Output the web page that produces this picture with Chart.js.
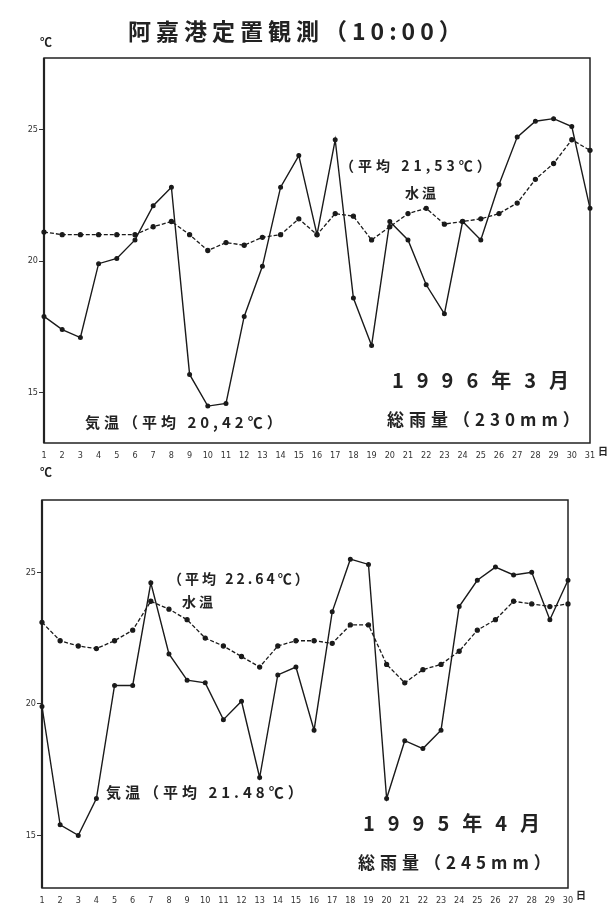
<!DOCTYPE html>
<html lang="ja">
<head>
<meta charset="UTF-8">
<title>阿嘉港定置観測</title>
<script src="https://cdn.jsdelivr.net/npm/chart.js@4"></script>
<style>
  body {
    margin: 0;
    background: #fff;
    width: 611px;
    height: 904px;
    position: relative;
    overflow: hidden;
    font-family: "Noto Sans CJK JP", "Noto Sans", sans-serif;
    color: #222;
  }
  .grafico { position: absolute; left: 0; width: 611px; }
  .texto { position: absolute; white-space: nowrap; font-weight: bold; line-height: 1; z-index: 2; }
</style>
</head>
<body>

<div class="grafico" style="top:0; height:465px;"><canvas id="graficoMarco"></canvas></div>
<div class="grafico" style="top:470px; height:434px;"><canvas id="graficoAbril"></canvas></div>

<!-- grafico de cima: marco 1996 -->
<div class="texto" style="left:128px; top:19px; font-size:23px; letter-spacing:5px;">阿嘉港定置観測（10:00）</div>
<div class="texto" style="left:40px; top:36px; font-size:12px;">℃</div>
<div class="texto" style="left:340px; top:158px; font-size:14px; letter-spacing:4px;">（平均 21,53℃）</div>
<div class="texto" style="left:405px; top:185px; font-size:14px; letter-spacing:3px;">水温</div>
<div class="texto" style="left:85px; top:414px; font-size:15px; letter-spacing:4px;">気温（平均 20,42℃）</div>
<div class="texto" style="left:392px; top:370px; font-size:20px; letter-spacing:13px;">1996年3月</div>
<div class="texto" style="left:387px; top:410px; font-size:17px; letter-spacing:5px;">総雨量（230mm）</div>
<div class="texto" style="left:598px; top:446px; font-size:10px;">日</div>

<!-- grafico de baixo: abril 1995 -->
<div class="texto" style="left:40px; top:466px; font-size:12px;">℃</div>
<div class="texto" style="left:168px; top:571px; font-size:14px; letter-spacing:3px;">（平均 22.64℃）</div>
<div class="texto" style="left:182px; top:594px; font-size:14px; letter-spacing:3px;">水温</div>
<div class="texto" style="left:106px; top:784px; font-size:15px; letter-spacing:4px;">気温（平均 21.48℃）</div>
<div class="texto" style="left:363px; top:813px; font-size:20px; letter-spacing:13px;">1995年4月</div>
<div class="texto" style="left:358px; top:853px; font-size:17px; letter-spacing:5px;">総雨量（245mm）</div>
<div class="texto" style="left:576px; top:890px; font-size:10px;">日</div>

<script>
// dias do mes (eixo x)
const diasMarco = ['1','2','3','4','5','6','7','8','9','10','11','12','13','14','15','16',
  '17','18','19','20','21','22','23','24','25','26','27','28','29','30','31'];
const diasAbril = ['1','2','3','4','5','6','7','8','9','10','11','12','13','14','15','16',
  '17','18','19','20','21','22','23','24','25','26','27','28','29','30'];

// temperatura do ar (気温) e da agua (水温), em ℃
const arMarco = [17.9, 17.4, 17.1, 19.9, 20.1, 20.8, 22.1, 22.8, 15.7, 14.5, 14.6, 17.9, 19.8, 22.8, 24.0, 21.0,
  24.6, 18.6, 16.8, 21.5, 20.8, 19.1, 18.0, 21.5, 20.8, 22.9, 24.7, 25.3, 25.4, 25.1, 22.0];
const aguaMarco = [21.1, 21.0, 21.0, 21.0, 21.0, 21.0, 21.3, 21.5, 21.0, 20.4, 20.7, 20.6, 20.9, 21.0, 21.6, 21.0,
  21.8, 21.7, 20.8, 21.3, 21.8, 22.0, 21.4, 21.5, 21.6, 21.8, 22.2, 23.1, 23.7, 24.6, 24.2];

const arAbril = [19.9, 15.4, 15.0, 16.4, 20.7, 20.7, 24.6, 21.9, 20.9, 20.8, 19.4, 20.1, 17.2, 21.1, 21.4, 19.0,
  23.5, 25.5, 25.3, 16.4, 18.6, 18.3, 19.0, 23.7, 24.7, 25.2, 24.9, 25.0, 23.2, 24.7];
const aguaAbril = [23.1, 22.4, 22.2, 22.1, 22.4, 22.8, 23.9, 23.6, 23.2, 22.5, 22.2, 21.8, 21.4, 22.2, 22.4, 22.4,
  22.3, 23.0, 23.0, 21.5, 20.8, 21.3, 21.5, 22.0, 22.8, 23.2, 23.9, 23.8, 23.7, 23.8];

const ticksTemperatura = [15, 20, 25];

// desenha a moldura em volta da area do grafico
const moldura = {
  id: 'moldura',
  beforeDatasetsDraw(chart) {
    const { ctx, chartArea: a } = chart;
    ctx.save();
    ctx.strokeStyle = '#222';
    ctx.lineWidth = 1.5;
    ctx.strokeRect(a.left, a.top, a.right - a.left, a.bottom - a.top);
    ctx.beginPath();
    ctx.lineWidth = 2.2;
    ctx.moveTo(a.left, a.top);
    ctx.lineTo(a.left, a.bottom);
    ctx.stroke();
    ctx.restore();
  }
};

function criarGrafico(idCanvas, dias, ar, agua, config) {
  const ctx = document.getElementById(idCanvas);

  new Chart(ctx, {
    type: 'line',
    data: {
      labels: dias,
      datasets: [
        {
          label: '気温',
          data: ar,
          borderColor: '#1a1a1a',
          backgroundColor: '#1a1a1a',
          borderWidth: 1.4,
          pointRadius: 1.8,
          tension: 0,
          fill: false
        },
        {
          label: '水温',
          data: agua,
          borderColor: '#1a1a1a',
          backgroundColor: '#1a1a1a',
          borderWidth: 1.3,
          borderDash: [4, 2],
          pointRadius: 2,
          tension: 0,
          fill: false
        }
      ]
    },
    options: {
      responsive: true,
      maintainAspectRatio: false,
      animation: false,
      events: [],
      layout: {
        padding: { top: config.topo, right: config.direita, left: 0, bottom: 0 }
      },
      plugins: {
        legend: { display: false },
        tooltip: { enabled: false }
      },
      scales: {
        x: {
          offset: false,
          grid: { display: false },
          border: { display: false },
          ticks: {
            autoSkip: false,
            maxRotation: 0,
            padding: 0,
            color: '#333',
            font: { size: 9, family: 'DejaVu Sans Condensed', lineHeight: 1 }
          },
          afterFit: (eixo) => { eixo.height = config.alturaX; }
        },
        y: {
          min: config.min,
          max: config.max,
          afterBuildTicks: (eixo) => {
            eixo.ticks = ticksTemperatura.map(v => ({ value: v }));
          },
          grid: {
            drawOnChartArea: false,
            drawTicks: true,
            tickLength: 5,
            color: '#333'
          },
          border: { display: false },
          ticks: {
            padding: 1,
            color: '#333',
            font: { size: 9, family: 'DejaVu Sans Condensed' }
          },
          afterFit: (eixo) => { eixo.width = config.larguraY; }
        }
      }
    },
    plugins: [moldura]
  });
}

criarGrafico('graficoMarco', diasMarco, arMarco, aguaMarco,
  { topo: 58, direita: 21, alturaX: 22, larguraY: 44, min: 13.1, max: 27.7 });

criarGrafico('graficoAbril', diasAbril, arAbril, aguaAbril,
  { topo: 30, direita: 43, alturaX: 16, larguraY: 42, min: 13.0, max: 27.75 });
</script>
</body>
</html>
